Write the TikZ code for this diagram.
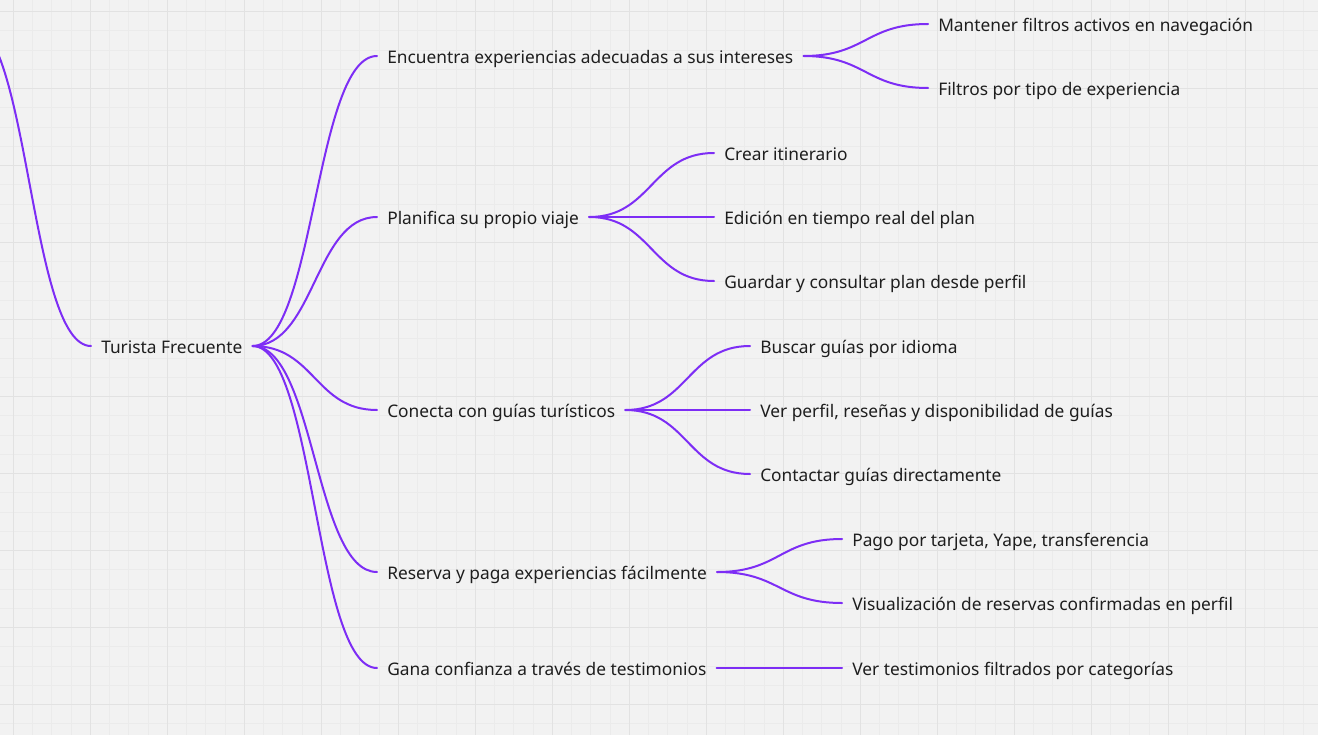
\documentclass[tikz,border=0pt]{standalone}
\usepackage{fontspec}
\setmainfont{Noto Sans}
\usetikzlibrary{calc}
\definecolor{bg}{HTML}{F2F2F2}
\definecolor{gridminor}{HTML}{EBEBEB}
\definecolor{gridmajor}{HTML}{E2E2E2}
\definecolor{linkc}{RGB}{125,45,245}
\definecolor{textc}{HTML}{1E1E1E}
\tikzset{
  txt/.style={inner xsep=7.5pt, inner ysep=0pt, text height=11.2pt, text depth=0pt,
    anchor=west, text=textc, font=\fontsize{13pt}{15pt}\selectfont},
  link/.style={draw=linkc, line width=1.5pt, line cap=round},
  branch/.style={to path={let \p1=(\tikztostart), \p2=(\tikztotarget) in
    .. controls ({0.5*\x1+0.5*\x2},\y1) and ({0.5*\x1+0.5*\x2},\y2) .. (\tikztotarget)}},
  gminor/.style={draw=gridminor, line width=0.75pt},
  gmajor/.style={draw=gridmajor, line width=0.75pt}
}
\begin{document}
\begin{tikzpicture}[x=0.75pt,y=-0.75pt]
\useasboundingbox (0,0) rectangle (1318,735);
\clip (0,0) rectangle (1318,735);
\fill[bg] (0,0) rectangle (1318,735);
% grid
\foreach \i in {-1,...,68} { \path[gminor] ({13.3+\i*19.25},0) -- ++(0,735); }
\foreach \j in {-1,...,38} { \path[gminor] (0,{11.6+\j*19.25}) -- ++(1318,0); }
\foreach \i in {0,...,17} { \path[gmajor] ({13.3+\i*77},0) -- ++(0,735); }
\foreach \j in {0,...,9} { \path[gmajor] (0,{11.6+\j*77}) -- ++(1318,0); }

% nodes
\coordinate (parent) at (-32,21);
\node[txt] (root) at (91,346) {Turista Frecuente};

\node[txt] (c1) at (377,56) {Encuentra experiencias adecuadas a sus intereses};
\node[txt] (c2) at (377,217) {Planifica su propio viaje};
\node[txt] (c3) at (377,410) {Conecta con guías turísticos};
\node[txt] (c4) at (377,572) {Reserva y paga experiencias fácilmente};
\node[txt] (c5) at (377,668) {Gana confianza a través de testimonios};

\node[txt] (g11) at (928,24) {Mantener filtros activos en navegación};
\node[txt] (g12) at (928,88) {Filtros por tipo de experiencia};
\node[txt] (g21) at (714,153) {Crear itinerario};
\node[txt] (g22) at (714,217) {Edición en tiempo real del plan};
\node[txt] (g23) at (714,281) {Guardar y consultar plan desde perfil};
\node[txt] (g31) at (750,346) {Buscar guías por idioma};
\node[txt] (g32) at (750,410) {Ver perfil, reseñas y disponibilidad de guías};
\node[txt] (g33) at (750,474) {Contactar guías directamente};
\node[txt] (g41) at (842,539) {Pago por tarjeta, Yape, transferencia};
\node[txt] (g42) at (842,603) {Visualización de reservas confirmadas en perfil};
\node[txt] (g51) at (842,668) {Ver testimonios filtrados por categorías};

% connectors
\draw[link] (parent) to[branch] (root.west);
\foreach \c in {c1,c2,c3,c4,c5} { \draw[link] (root.east) to[branch] (\c.west); }
\foreach \g in {g11,g12} { \draw[link] (c1.east) to[branch] (\g.west); }
\foreach \g in {g21,g22,g23} { \draw[link] (c2.east) to[branch] (\g.west); }
\foreach \g in {g31,g32,g33} { \draw[link] (c3.east) to[branch] (\g.west); }
\foreach \g in {g41,g42} { \draw[link] (c4.east) to[branch] (\g.west); }
\draw[link] (c5.east) to[branch] (g51.west);
\end{tikzpicture}
\end{document}
